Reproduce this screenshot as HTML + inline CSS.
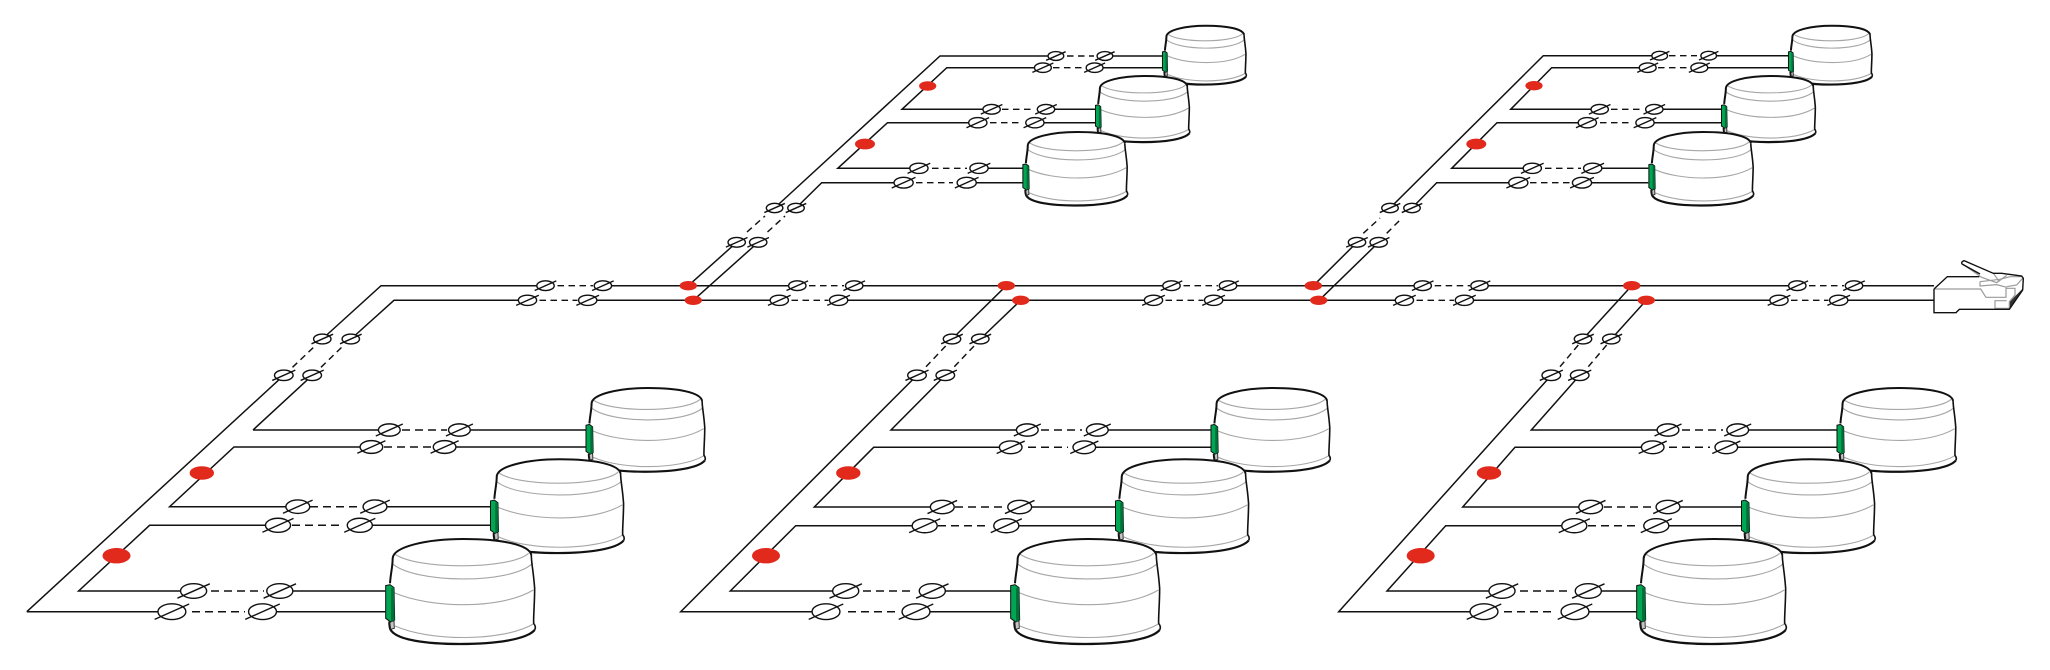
<!DOCTYPE html>
<html>
<head>
<meta charset="utf-8">
<title>Network diagram</title>
<style>
html,body{margin:0;padding:0;background:#fff;width:2050px;height:670px;overflow:hidden}
svg{display:block}
.s{fill:none;stroke:#111;stroke-width:1.5;stroke-linejoin:miter}
.d{fill:none;stroke:#111;stroke-width:1.5;stroke-dasharray:8 5}
.t{fill:none;stroke:#111;stroke-width:1.45;stroke-dasharray:6.5 4.5}
.r{fill:#e1291c}
</style>
</head>
<body>
<svg width="2050" height="670" viewBox="0 0 2050 670" xmlns="http://www.w3.org/2000/svg">
<defs>
<g id="o">
<ellipse rx="8.7" ry="4.9" fill="#fff" stroke="#111" stroke-width="1.4" vector-effect="non-scaling-stroke"/>
<line x1="-10.8" y1="4.8" x2="10.8" y2="-4.8" stroke="#111" stroke-width="1.4" vector-effect="non-scaling-stroke"/>
</g>
<g id="k">
<path d="M68,115 C70,80 170,57 280,57 C400,57 478,75 484,110 C484,130 490,150 494,205 C494,250 490,290 491,310 C497,318 497,325 494,330 C470,358 380,372 270,372 C170,372 80,360 62,330 C58,322 58,312 58,305 L60,190 C62,160 68,140 68,115 Z" fill="#fff" stroke="none"/>
<g fill="none" stroke="#a6a6a6">
<path stroke-width="1.1" vector-effect="non-scaling-stroke" d="M72,100 C130,150 420,150 476,100"/>
<path stroke-width="1.1" vector-effect="non-scaling-stroke" d="M66,130 C130,190 420,195 488,130"/>
<path stroke-width="1.1" vector-effect="non-scaling-stroke" d="M72,218 C180,265 390,270 490,210"/>
<path stroke-width="1.1" vector-effect="non-scaling-stroke" d="M75,318 C180,365 400,365 490,312"/>
</g>
<path d="M60,190 C62,160 68,140 68,115 C70,80 170,57 280,57 C400,57 478,75 484,105" fill="none" stroke="#111" stroke-width="2" vector-effect="non-scaling-stroke"/>
<path d="M484,105 C484,130 490,150 494,205 C494,250 490,290 491,310 C497,318 497,325 494,330" fill="none" stroke="#111" stroke-width="1.6" vector-effect="non-scaling-stroke"/>
<path d="M494,330 C470,358 380,372 270,372 C170,372 80,360 62,330 C58,322 58,315 58,305" fill="none" stroke="#111" stroke-width="2.2" vector-effect="non-scaling-stroke"/>
<path d="M59,303 H72 L73,325 L62,328 Z" fill="#c4c4c4" stroke="#222" stroke-width="0.9" vector-effect="non-scaling-stroke"/>
<path d="M47,197 L60,194 L72,203 L74,300 L62,306 L47,295 Z" fill="#00a651" stroke="#111" stroke-width="1" vector-effect="non-scaling-stroke"/>
<path d="M63,204 L72,203 L74,300 L63,306 Z" fill="#00703a"/>
</g>
</defs>

<!-- lines -->
<path class="s" d="M26.8,611.7 L283.8,375.3 M322.3,339 L381,285.7 H545.5 M602.9,285.7 H797.3 M854.2,285.7 H1171.5 M1228,285.7 H1422.7 M1479.5,285.7 H1797.3 M1854,285.7 H1934"/>
<path class="s" d="M253,430 L312.3,375.3 M351,339 L394,300.3 H527.5 M587.7,300.3 H779.3 M838.6,300.3 H1153.5 M1213.6,300.3 H1404.4 M1464.4,300.3 H1779 M1838.7,300.3 H1934"/>
<path class="t" d="M557.5,285.7 H593 M809,285.7 H844 M1183.5,285.7 H1218 M1434.7,285.7 H1470 M1809,285.7 H1844 M539.5,300.3 H577.5 M791.5,300.3 H828.5 M1165.5,300.3 H1203.5 M1416.5,300.3 H1454 M1791,300.3 H1828.5"/>

<!-- group 1 -->
<path class="s" d="M389.3,430 H253 M459.4,430 H585.7 M371.4,447 H234 L169.6,506.7 H297.8 M444.6,447 H585.7 M375,506.7 H490.2 M278,525.3 H149.6 L78.6,591 H193.8 M359.8,525.3 H490.2 M280,591 H385.3 M26.8,611.7 H171.9 M262.5,611.7 H385.3"/>
<path class="d" d="M402,430 H447 M384,447 H431 M310,506.7 H361 M292,525.3 H344 M211,591 H264 M192,611.7 H245"/>
<path class="t" d="M292.5,367.3 L316,345 M321,367.3 L344,345"/>

<!-- group 2 -->
<path class="s" d="M1006.3,285.7 L952,339 M917,375.3 L680.7,611.7 H826 M916,611.7 H1011 M1020.7,300.3 L980.3,339 M945.3,375.3 L891,430 H1027.3 M1097.3,430 H1210.7 M1010.7,447.3 H873.7 L814.3,507 H942.3 M1084.3,447.3 H1210.7 M1019.7,507 H1115.3 M924.7,525.7 H795.7 L730.3,591 H845.7 M1006.3,525.7 H1115.3 M932.3,591 H1011"/>
<path class="d" d="M1041,430 H1082 M1028,447.3 H1068 M955,507 H1003 M938,525.7 H989 M863,591 H915 M848,611.7 H897"/>
<path class="t" d="M926,366.7 L946,345.7 M954.3,366.7 L975,345"/>

<!-- group 3 -->
<path class="s" d="M1631.7,285.7 L1583,339 M1551.3,375.3 L1338.7,611.7 H1484 M1575,611.7 H1636.7 M1646.3,300.3 L1611.3,339 M1579.7,375.3 L1531.3,430 H1668 M1737.7,430 H1836.7 M1652.7,447.3 H1515 L1462.7,507 H1590.7 M1726.3,447.3 H1836.7 M1668,507 H1741.7 M1574.3,525.7 H1445.7 L1387,591 H1502 M1656.3,525.7 H1741.7 M1588.3,591 H1636.7"/>
<path class="d" d="M1682,430 H1723 M1669,447.3 H1710 M1604,507 H1653 M1588,525.7 H1639 M1520,591 H1572 M1504,611.7 H1556"/>
<path class="t" d="M1560,366.7 L1578.3,345 M1588.3,366.7 L1606.7,345"/>

<!-- top group 1 -->
<path class="s" d="M688.3,285.7 L736.7,242.3 M774.6,208 L940,56 H1055.9 M1104.9,56 H1162.3 M693.3,300.3 L758.2,242.3 M796,208 L821.7,182.7 H903.6 M966.7,182.7 H1022.6 M918.9,168.3 H837.8 L887.5,122.7 H977.8 M979,168.3 H1022.6 M1034.9,122.7 H1095.3 M991.6,109.3 H902 L946.8,67.7 H1042.9 M1046,109.3 H1095.3 M1094.6,67.7 H1162.3"/>
<path class="t" d="M916,182.7 H953 M932,168.3 H967 M990,122.7 H1023 M1002,109.3 H1035 M1053,67.7 H1084 M1067,56 H1094 M747,232 L765,216 M767.5,232 L785,216"/>

<!-- top group 2 -->
<path class="s" d="M1313.3,285.7 L1357,242.3 M1390,208 L1543.3,55.7 H1659.7 M1708.7,55.7 H1788.3 M1318.7,300.7 L1378.7,242.3 M1412,208 L1436.7,182.7 H1518.3 M1582,182.7 H1648.3 M1532.3,168.3 H1451.7 L1497,122.7 H1587.3 M1592.7,168.3 H1648.3 M1645,122.7 H1721.7 M1599.7,109.3 H1510.7 L1551.7,67.7 H1647.7 M1654.3,109.3 H1721.7 M1699.3,67.7 H1788.3"/>
<path class="t" d="M1530,182.7 H1570 M1545,168.3 H1581 M1600,122.7 H1633 M1611,109.3 H1643 M1658,67.7 H1689 M1669,55.7 H1697 M1363.3,233.3 L1380,218 M1386.7,233.3 L1402,218"/>

<!-- ovals: bus -->
<use href="#o" transform="translate(545.5 285.7)"/><use href="#o" transform="translate(602.9 285.7)"/>
<use href="#o" transform="translate(797.3 285.7)"/><use href="#o" transform="translate(854.2 285.7)"/>
<use href="#o" transform="translate(1171.5 285.7)"/><use href="#o" transform="translate(1228 285.7)"/>
<use href="#o" transform="translate(1422.7 285.7)"/><use href="#o" transform="translate(1479.5 285.7)"/>
<use href="#o" transform="translate(1797.3 285.7)"/><use href="#o" transform="translate(1854 285.7)"/>
<use href="#o" transform="translate(527.5 300.3) scale(1.05)"/><use href="#o" transform="translate(587.7 300.3) scale(1.05)"/>
<use href="#o" transform="translate(779.3 300.3) scale(1.05)"/><use href="#o" transform="translate(838.6 300.3) scale(1.05)"/>
<use href="#o" transform="translate(1153.5 300.3) scale(1.05)"/><use href="#o" transform="translate(1213.6 300.3) scale(1.05)"/>
<use href="#o" transform="translate(1404.4 300.3) scale(1.05)"/><use href="#o" transform="translate(1464.4 300.3) scale(1.05)"/>
<use href="#o" transform="translate(1779 300.3) scale(1.05)"/><use href="#o" transform="translate(1838.7 300.3) scale(1.05)"/>

<!-- ovals: group 1 -->
<use href="#o" transform="translate(322.3 339)"/><use href="#o" transform="translate(350.8 339)"/>
<use href="#o" transform="translate(283.8 375.3) scale(1.07)"/><use href="#o" transform="translate(312.2 375.3) scale(1.07)"/>
<use href="#o" transform="translate(389.3 430) scale(1.25)"/><use href="#o" transform="translate(459.4 430) scale(1.25)"/>
<use href="#o" transform="translate(371.4 447) scale(1.3)"/><use href="#o" transform="translate(444.6 447) scale(1.3)"/>
<use href="#o" transform="translate(297.8 506.7) scale(1.37)"/><use href="#o" transform="translate(375 506.7) scale(1.37)"/>
<use href="#o" transform="translate(278 525.3) scale(1.44)"/><use href="#o" transform="translate(359.8 525.3) scale(1.44)"/>
<use href="#o" transform="translate(193.6 591) scale(1.5)"/><use href="#o" transform="translate(279.8 591) scale(1.5)"/>
<use href="#o" transform="translate(171.9 611.7) scale(1.6)"/><use href="#o" transform="translate(262.5 611.7) scale(1.6)"/>

<!-- ovals: group 2 -->
<use href="#o" transform="translate(952 339)"/><use href="#o" transform="translate(980.3 339)"/>
<use href="#o" transform="translate(917 375.3) scale(1.07)"/><use href="#o" transform="translate(945.3 375.3) scale(1.07)"/>
<use href="#o" transform="translate(1027.3 430) scale(1.25)"/><use href="#o" transform="translate(1097.3 430) scale(1.25)"/>
<use href="#o" transform="translate(1010.7 447.3) scale(1.3)"/><use href="#o" transform="translate(1084.3 447.3) scale(1.3)"/>
<use href="#o" transform="translate(942.3 507) scale(1.37)"/><use href="#o" transform="translate(1019.7 507) scale(1.37)"/>
<use href="#o" transform="translate(924.7 525.7) scale(1.44)"/><use href="#o" transform="translate(1006.3 525.7) scale(1.44)"/>
<use href="#o" transform="translate(845.7 591) scale(1.5)"/><use href="#o" transform="translate(932.3 591) scale(1.5)"/>
<use href="#o" transform="translate(826 611.7) scale(1.6)"/><use href="#o" transform="translate(916 611.7) scale(1.6)"/>

<!-- ovals: group 3 -->
<use href="#o" transform="translate(1583 339)"/><use href="#o" transform="translate(1611.3 339)"/>
<use href="#o" transform="translate(1551.3 375.3) scale(1.07)"/><use href="#o" transform="translate(1579.7 375.3) scale(1.07)"/>
<use href="#o" transform="translate(1668 430) scale(1.25)"/><use href="#o" transform="translate(1737.7 430) scale(1.25)"/>
<use href="#o" transform="translate(1652.7 447.3) scale(1.3)"/><use href="#o" transform="translate(1726.3 447.3) scale(1.3)"/>
<use href="#o" transform="translate(1590.7 507) scale(1.37)"/><use href="#o" transform="translate(1668 507) scale(1.37)"/>
<use href="#o" transform="translate(1574.3 525.7) scale(1.44)"/><use href="#o" transform="translate(1656.3 525.7) scale(1.44)"/>
<use href="#o" transform="translate(1502 591) scale(1.5)"/><use href="#o" transform="translate(1588.3 591) scale(1.5)"/>
<use href="#o" transform="translate(1484 611.7) scale(1.6)"/><use href="#o" transform="translate(1575 611.7) scale(1.6)"/>

<!-- ovals: top group 1 -->
<use href="#o" transform="translate(736.7 242.3)"/><use href="#o" transform="translate(758.2 242.3)"/>
<use href="#o" transform="translate(774.6 208) scale(.95)"/><use href="#o" transform="translate(796 208) scale(.95)"/>
<use href="#o" transform="translate(903.6 182.7) scale(1.1)"/><use href="#o" transform="translate(966.7 182.7) scale(1.1)"/>
<use href="#o" transform="translate(918.9 168.3) scale(1.05)"/><use href="#o" transform="translate(979 168.3) scale(1.05)"/>
<use href="#o" transform="translate(977.8 122.7) scale(1.05)"/><use href="#o" transform="translate(1034.9 122.7) scale(1.05)"/>
<use href="#o" transform="translate(991.6 109.3)"/><use href="#o" transform="translate(1046 109.3)"/>
<use href="#o" transform="translate(1042.9 67.7) scale(.97)"/><use href="#o" transform="translate(1094.6 67.7) scale(.97)"/>
<use href="#o" transform="translate(1055.9 56) scale(.9)"/><use href="#o" transform="translate(1104.9 56) scale(.9)"/>

<!-- ovals: top group 2 -->
<use href="#o" transform="translate(1357 242.3)"/><use href="#o" transform="translate(1378.7 242.3)"/>
<use href="#o" transform="translate(1390 208) scale(.95)"/><use href="#o" transform="translate(1412 208) scale(.95)"/>
<use href="#o" transform="translate(1518.3 182.7) scale(1.1)"/><use href="#o" transform="translate(1582 182.7) scale(1.1)"/>
<use href="#o" transform="translate(1532.3 168.3) scale(1.05)"/><use href="#o" transform="translate(1592.7 168.3) scale(1.05)"/>
<use href="#o" transform="translate(1587.3 122.7) scale(1.05)"/><use href="#o" transform="translate(1645 122.7) scale(1.05)"/>
<use href="#o" transform="translate(1599.7 109.3)"/><use href="#o" transform="translate(1654.3 109.3)"/>
<use href="#o" transform="translate(1647.7 67.7) scale(.97)"/><use href="#o" transform="translate(1699.3 67.7) scale(.97)"/>
<use href="#o" transform="translate(1659.7 55.7) scale(.9)"/><use href="#o" transform="translate(1708.7 55.7) scale(.9)"/>

<!-- red dots -->
<ellipse class="r" cx="688.3" cy="285.7" rx="8.7" ry="4.7"/><ellipse class="r" cx="693.3" cy="300.3" rx="8.7" ry="4.7"/>
<ellipse class="r" cx="1006.3" cy="285.7" rx="8.7" ry="4.7"/><ellipse class="r" cx="1020.7" cy="300.3" rx="8.7" ry="4.7"/>
<ellipse class="r" cx="1313.3" cy="285.7" rx="8.7" ry="4.7"/><ellipse class="r" cx="1318.7" cy="300.3" rx="8.7" ry="4.7"/>
<ellipse class="r" cx="1631.7" cy="285.7" rx="8.7" ry="4.7"/><ellipse class="r" cx="1646.3" cy="300.3" rx="8.7" ry="4.7"/>
<ellipse class="r" cx="201.8" cy="473" rx="12.2" ry="6.7"/><ellipse class="r" cx="116.5" cy="555.7" rx="14" ry="7.7"/>
<ellipse class="r" cx="848.3" cy="473" rx="12.2" ry="6.7"/><ellipse class="r" cx="766" cy="555.7" rx="14" ry="7.7"/>
<ellipse class="r" cx="1489" cy="473" rx="12.2" ry="6.7"/><ellipse class="r" cx="1420.7" cy="555.7" rx="14" ry="7.7"/>
<ellipse class="r" cx="865" cy="144" rx="10" ry="5.4"/><ellipse class="r" cx="927.7" cy="86" rx="8.6" ry="4.7"/>
<ellipse class="r" cx="1476.3" cy="144" rx="10" ry="5.4"/><ellipse class="r" cx="1534" cy="85.7" rx="8.6" ry="4.7"/>

<!-- disks: top group 1 -->
<use href="#k" transform="translate(1153.7 15.1) scale(.1867)"/>
<use href="#k" transform="translate(1085.6 64) scale(.21)"/>
<use href="#k" transform="translate(1011.9 118.7) scale(.2333)"/>
<!-- disks: top group 2 -->
<use href="#k" transform="translate(1779.7 15.1) scale(.1867)"/>
<use href="#k" transform="translate(1711.6 64) scale(.21)"/>
<use href="#k" transform="translate(1637.9 118.7) scale(.2333)"/>
<!-- disks: group 1 -->
<use href="#k" transform="translate(573.5 372.9) scale(.2657)"/>
<use href="#k" transform="translate(476.5 442.3) scale(.2977)"/>
<use href="#k" transform="translate(370 520) scale(.3333)"/>
<!-- disks: group 2 -->
<use href="#k" transform="translate(1198.5 372.9) scale(.2657)"/>
<use href="#k" transform="translate(1101.5 442.3) scale(.2977)"/>
<use href="#k" transform="translate(995 520) scale(.3333)"/>
<!-- disks: group 3 -->
<use href="#k" transform="translate(1824.5 372.9) scale(.2657)"/>
<use href="#k" transform="translate(1727.5 442.3) scale(.2977)"/>
<use href="#k" transform="translate(1621 520) scale(.3333)"/>

<!-- plug -->
<g transform="translate(1850 240) scale(.33333)">
<path d="M252,147 L292,110 H390 L342,62 L430,100 H455 L515,108 L520,115 L518,150 L478,208 H328 L318,218 H252 Z" fill="#fff"/>
<path d="M478,186 L518,146 L518,152 L478,208 Z" fill="#333"/>
<g fill="none" stroke="#9a9a9a">
<path stroke-width="1.2" vector-effect="non-scaling-stroke" d="M252,147 H392 L408,172 H468 V145 H495 V165 L478,185 V205 H435 V182 H470"/>
<path stroke-width="1.2" vector-effect="non-scaling-stroke" d="M390,125 L450,118 L480,110 H515 M390,125 V138 L440,134 L470,142 M470,140 L500,135 L518,115"/>
<path stroke-width="1.2" vector-effect="non-scaling-stroke" d="M338,72 L395,112 L440,128 L470,106 M430,100 L448,125"/>
</g>
<path vector-effect="non-scaling-stroke" d="M252,147 L292,110 H388 M336,72 Q332,66 342,62 L430,100 H455 L515,108 L520,115 L518,150 L478,208 H328 L318,218 H252 V147 M336,72 L390,102" fill="none" stroke="#111" stroke-width="1.4"/>
</g>
</svg>
</body>
</html>
